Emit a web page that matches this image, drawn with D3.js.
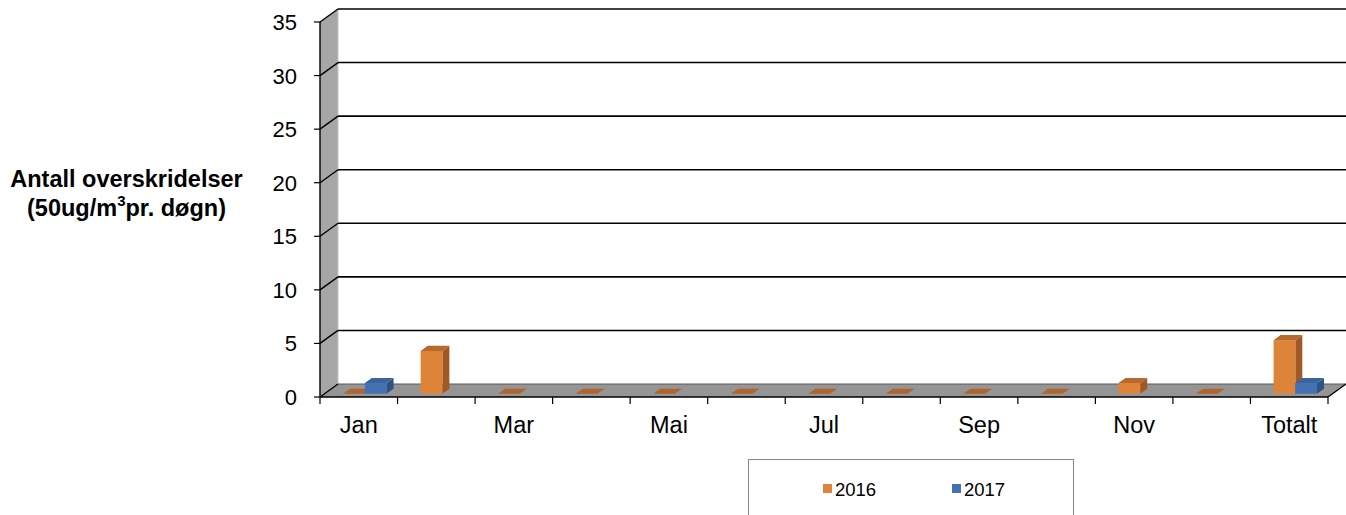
<!DOCTYPE html>
<html><head><meta charset="utf-8">
<script src="https://cdn.jsdelivr.net/npm/d3@7"></script>
<style>body{margin:0;background:#fff;font-family:"Liberation Sans",Arial,sans-serif;}</style>
</head><body><svg id="c" width="1346" height="515"></svg>
<script>
const categories = ["Jan","Feb","Mar","Apr","Mai","Jun","Jul","Aug","Sep","Okt","Nov","Des","Totalt"];
const shownLabels = ["Jan","Mar","Mai","Jul","Sep","Nov","Totalt"];
const series2016 = [0,4,0,0,0,0,0,0,0,0,1,0,5];
const series2017 = [1,null,null,null,null,null,null,null,null,null,null,null,1];
const seriesNames = ["2016","2017"];
const yTicks = [0,5,10,15,20,25,30,35];

const svg = d3.select("#c");
const DX = 18, DY = -13;
const x = d3.scaleBand().domain(categories).range([320, 1328]).padding(0);
const y = d3.scaleLinear().domain([0,35]).range([397, 22]);
const P = (px, py, f) => [px + DX*f, py + DY*f];
const poly = pts => pts.map(p => p.join(",")).join(" ");

const x0 = 320, x1 = 1328;
// back wall
svg.append("rect").attr("x", x0+DX).attr("y", y(35)+DY).attr("width", x1-x0).attr("height", y(0)-y(35)).attr("fill","#fff");
// side wall
svg.append("polygon").attr("points", poly([P(x0,y(0),0),P(x0,y(0),1),P(x0,y(35),1),P(x0,y(35),0)])).attr("fill","#a6a6a6");
svg.append("line").attr("x1",x0+DX).attr("x2",x0+DX).attr("y1",y(35)+DY).attr("y2",y(0)+DY).attr("stroke","#c8c8c8").attr("stroke-width",1);
// floor
svg.append("polygon").attr("points", poly([P(x0,y(0),0),P(x1,y(0),0),P(x1,y(0),1),P(x0,y(0),1)])).attr("fill","#959595");
// gridlines
yTicks.forEach(v => {
  if (v > 0) {
    svg.append("line").attr("x1",x0+DX).attr("x2",1346).attr("y1",y(v)+DY).attr("y2",y(v)+DY).attr("stroke","#000").attr("stroke-width",1.6);
  } else {
    svg.append("line").attr("x1",x0+DX).attr("x2",x1+DX).attr("y1",y(v)+DY).attr("y2",y(v)+DY).attr("stroke","#5a5a5a").attr("stroke-width",1);
  }
  const a = P(x0,y(v),0), b = P(x0,y(v),1);
  svg.append("line").attr("x1",a[0]).attr("y1",a[1]).attr("x2",b[0]).attr("y2",b[1]).attr("stroke","#000").attr("stroke-width",1.4);
});
// floor right edge
{ const a=P(x1,y(0),0), b=P(x1,y(0),1);
  svg.append("line").attr("x1",a[0]).attr("y1",a[1]).attr("x2",b[0]).attr("y2",b[1]).attr("stroke","#000").attr("stroke-width",1.4); }

// bars
const colors = [
  {front:"#dd8439", top:"#b8692e", side:"#a25826"},
  {front:"#4472b1", top:"#3a649d", side:"#2f5384"}
];
const f0 = 0.25, f1 = 0.64;
const bw = x.bandwidth()*0.28, off = x.bandwidth()*0.24;
const data = [series2016, series2017];
categories.forEach((c, ci) => {
  data.forEach((s, si) => {
    const v = s[ci];
    if (v === null || v === undefined) return;
    const bx = x(c) + off + si*bw, bx2 = bx + bw;
    const g = svg.append("g");
    const yt = y(v), yb = y(0), col = colors[si];
    if (v > 0) {
      const a = P(bx,yt,f0), b = P(bx2,yb,f0);
      g.append("polygon").attr("points", poly([P(bx2,yt,f0),P(bx2,yb,f0),P(bx2,yb,f1),P(bx2,yt,f1)])).attr("fill",col.side);
      g.append("rect").attr("x",a[0]).attr("y",a[1]).attr("width",b[0]-a[0]).attr("height",b[1]-a[1]).attr("fill",col.front);
    }
    g.append("polygon").attr("points", poly([P(bx,yt,f0),P(bx2,yt,f0),P(bx2,yt,f1),P(bx,yt,f1)])).attr("fill", v > 0 ? col.top : "#b0652e");
  });
});

// axes
svg.append("line").attr("x1",x0).attr("x2",x0).attr("y1",y(35)).attr("y2",y(0)).attr("stroke","#000").attr("stroke-width",1.4);
svg.append("line").attr("x1",x0).attr("x2",x1).attr("y1",y(0)).attr("y2",y(0)).attr("stroke","#000").attr("stroke-width",1.4);
yTicks.forEach(v => {
  svg.append("line").attr("x1",x0-6).attr("x2",x0).attr("y1",y(v)).attr("y2",y(v)).attr("stroke","#000").attr("stroke-width",1.2);
  svg.append("text").attr("x",297).attr("y",y(v)+8).attr("text-anchor","end").attr("font-size",22).attr("fill","#000").text(v);
});
categories.concat(["__end"]).forEach((c, i) => {
  const tx = i < categories.length ? x(c) : x1;
  svg.append("line").attr("x1",tx).attr("x2",tx).attr("y1",y(0)).attr("y2",y(0)+7).attr("stroke","#000").attr("stroke-width",1.2);
});
categories.forEach(c => {
  if (!shownLabels.includes(c)) return;
  svg.append("text").attr("x", x(c)+x.bandwidth()/2).attr("y", 433).attr("text-anchor","middle").attr("font-size",23.5).attr("fill","#000").text(c);
});

// y title
const t = svg.append("g").attr("font-weight","bold").attr("font-size",23.5).attr("fill","#000");
t.append("text").attr("x",126.5).attr("y",187).attr("text-anchor","middle").text("Antall overskridelser");
const t2 = t.append("text").attr("x",126.5).attr("y",216).attr("text-anchor","middle");
t2.append("tspan").text("(50ug/m");
t2.append("tspan").attr("font-size",15).attr("dy",-10).text("3");
t2.append("tspan").attr("dy",10).text("pr. døgn)");

// legend
svg.append("rect").attr("x",748.5).attr("y",459.5).attr("width",325).attr("height",70).attr("fill","#fff").attr("stroke","#888").attr("stroke-width",1);
const lx = [823, 952];
seriesNames.forEach((n, i) => {
  svg.append("rect").attr("x",lx[i]).attr("y",484).attr("width",9).attr("height",9).attr("fill",colors[i].front);
  svg.append("text").attr("x",lx[i]+12).attr("y",496).attr("font-size",18.5).attr("fill","#000").text(n);
});
</script></body></html>
